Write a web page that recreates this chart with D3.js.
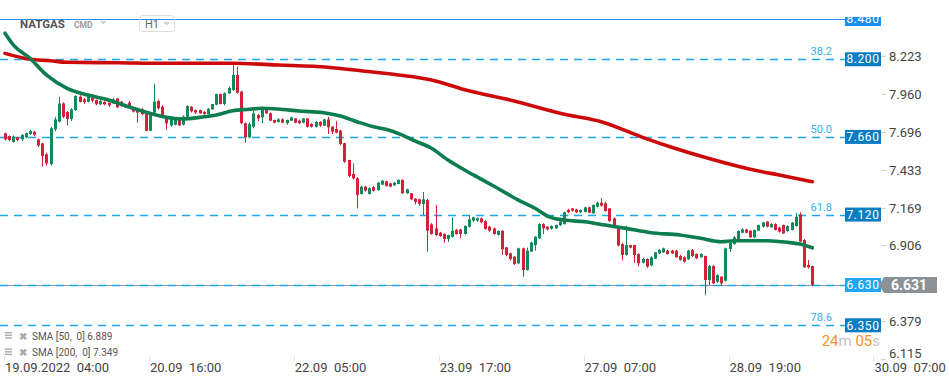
<!DOCTYPE html>
<html><head><meta charset="utf-8">
<script src="https://cdn.jsdelivr.net/npm/d3@7"></script>
<style>
html,body{margin:0;padding:0;background:#fff;}
svg{display:block;font-family:Roboto,"Noto Sans",sans-serif;}
</style></head><body>
<svg id="chart" width="949" height="384"></svg>
<script>
// ---- data (hourly candles, NATGAS H1) ----
const opens = [7.685,7.666,7.625,7.657,7.643,7.657,7.680,7.696,7.643,7.615,7.539,7.471,7.713,7.766,7.893,7.833,7.785,7.847,7.940,7.921,7.905,7.933,7.917,7.887,7.903,7.898,7.893,7.928,7.905,7.882,7.898,7.866,7.847,7.852,7.824,7.703,7.829,7.910,7.870,7.801,7.740,7.745,7.782,7.745,7.801,7.870,7.847,7.847,7.833,7.819,7.852,7.884,7.958,7.889,7.963,
7.986,8.091,7.975,7.755,7.657,7.731,7.813,7.796,7.847,7.824,7.778,7.764,7.782,7.755,7.773,7.789,7.773,7.759,7.789,7.750,7.731,7.764,7.738,7.782,7.731,7.715,7.704,7.616,7.500,7.402,7.372,7.263,7.314,7.263,7.310,7.291,7.328,7.351,7.337,7.323,7.333,7.361,7.268,7.268,7.231,7.226,7.194,7.221,
7.052,7.024,6.994,6.985,6.950,6.966,7.013,7.017,6.985,7.036,7.078,7.078,7.094,7.075,7.036,7.024,6.978,7.008,6.892,6.850,6.827,6.781,6.885,6.735,6.862,6.908,6.955,7.054,7.036,7.022,7.024,7.047,7.054,7.152,7.163,7.156,7.136,7.138,7.170,7.129,7.175,7.203,7.198,7.163,7.094,7.024,6.915,6.839,6.908,6.908,6.846,6.786,6.811,
6.767,6.813,6.850,6.857,6.869,6.869,6.869,6.832,6.823,6.809,6.874,6.846,6.823,6.832,6.665,6.762,6.653,6.688,6.660,6.881,6.915,6.943,6.994,7.017,7.008,6.962,7.008,7.036,7.071,7.031,7.054,7.029,7.047,7.006,7.013,7.040,7.122,6.943,6.769,6.762];
const highs = [7.69,7.67,7.67,7.66,7.68,7.69,7.71,7.70,7.65,7.62,7.55,7.73,7.80,7.94,7.90,7.84,7.86,7.95,7.95,7.93,7.96,7.94,7.92,7.92,7.91,7.90,7.93,7.93,7.91,7.89,7.91,7.87,7.85,7.86,7.83,7.83,8.03,7.92,7.88,7.80,7.79,7.79,7.79,7.81,7.88,7.875,7.85,7.85,7.84,7.86,7.89,7.96,7.96,7.97,8.01,
8.160,8.149,7.98,7.76,7.76,7.84,7.82,7.86,7.85,7.83,7.78,7.79,7.79,7.78,7.80,7.79,7.78,7.79,7.79,7.755,7.77,7.77,7.785,7.80,7.735,7.77,7.71,7.62,7.50,7.476,7.38,7.32,7.32,7.31,7.32,7.345,7.36,7.355,7.34,7.345,7.365,7.365,7.30,7.27,7.235,7.23,7.277,7.23,
7.06,7.187,7.00,6.99,6.98,7.101,7.02,7.02,7.045,7.117,7.105,7.10,7.10,7.08,7.04,7.03,7.01,7.01,6.895,6.855,6.83,6.89,6.89,6.89,6.93,6.97,7.06,7.06,7.04,7.045,7.05,7.075,7.14,7.16,7.165,7.16,7.155,7.175,7.175,7.19,7.21,7.233,7.21,7.165,7.10,7.03,6.92,7.043,6.91,6.91,6.85,6.82,6.815,
6.83,6.86,6.88,6.89,6.875,6.875,6.875,6.84,6.83,6.875,6.88,6.85,6.85,6.835,6.77,6.77,6.705,6.69,6.89,6.935,6.97,7.01,7.025,7.02,7.01,7.015,7.05,7.07,7.075,7.06,7.06,7.035,7.05,7.045,7.07,7.129,7.135,6.95,6.804,6.765];
const lows = [7.635,7.63,7.62,7.63,7.63,7.65,7.675,7.665,7.59,7.453,7.46,7.46,7.70,7.76,7.79,7.74,7.77,7.84,7.90,7.89,7.90,7.90,7.88,7.88,7.88,7.87,7.89,7.86,7.87,7.86,7.86,7.83,7.76,7.81,7.70,7.70,7.82,7.85,7.79,7.71,7.73,7.74,7.735,7.74,7.79,7.83,7.82,7.82,7.815,7.815,7.85,7.88,7.885,7.88,7.96,
7.98,7.96,7.75,7.620,7.65,7.72,7.77,7.755,7.82,7.77,7.755,7.76,7.755,7.745,7.77,7.755,7.75,7.755,7.725,7.725,7.725,7.73,7.735,7.680,7.680,7.685,7.60,7.48,7.38,7.365,7.163,7.26,7.28,7.26,7.28,7.285,7.325,7.315,7.31,7.32,7.33,7.265,7.265,7.22,7.19,7.18,7.117,6.862,
6.98,6.97,6.965,6.925,6.93,6.96,6.98,6.955,6.98,7.03,7.07,7.07,7.06,7.015,7.00,6.98,6.975,6.84,6.83,6.80,6.77,6.775,6.688,6.73,6.86,6.87,6.95,6.985,7.01,7.015,7.02,7.04,7.05,7.13,7.14,7.13,7.13,7.135,7.13,7.125,7.17,7.175,7.14,7.07,7.03,6.90,6.80,6.835,6.885,6.785,6.76,6.78,6.75,
6.76,6.81,6.845,6.855,6.84,6.845,6.82,6.80,6.785,6.805,6.825,6.81,6.82,6.561,6.63,6.635,6.645,6.625,6.655,6.86,6.91,6.94,6.99,6.99,6.96,6.955,7.005,7.03,7.03,7.03,7.01,6.995,6.985,7.00,7.01,7.035,6.93,6.75,6.745,6.625];
const closes = [7.643,7.638,7.662,7.638,7.673,7.685,7.701,7.675,7.601,7.527,7.476,7.720,7.782,7.893,7.801,7.785,7.852,7.944,7.903,7.903,7.940,7.912,7.887,7.910,7.887,7.880,7.921,7.866,7.875,7.866,7.866,7.836,7.829,7.819,7.703,7.829,7.905,7.859,7.792,7.754,7.787,7.780,7.740,7.801,7.875,7.838,7.829,7.824,7.819,7.856,7.889,7.958,7.889,7.963,8.000,
8.091,7.968,7.755,7.657,7.750,7.824,7.789,7.847,7.824,7.773,7.759,7.782,7.759,7.778,7.796,7.759,7.755,7.789,7.731,7.731,7.764,7.738,7.782,7.727,7.697,7.690,7.611,7.488,7.388,7.372,7.256,7.314,7.286,7.303,7.286,7.342,7.356,7.319,7.314,7.342,7.361,7.268,7.296,7.226,7.208,7.194,7.226,7.008,
6.985,6.978,6.971,6.950,6.978,7.008,6.985,6.985,7.041,7.087,7.101,7.094,7.066,7.020,7.008,6.985,7.006,6.878,6.839,6.811,6.776,6.885,6.735,6.869,6.925,6.966,7.054,7.024,7.017,7.041,7.047,7.071,7.136,7.136,7.147,7.136,7.152,7.170,7.133,7.187,7.203,7.182,7.145,7.075,7.036,6.904,6.839,6.908,6.890,6.839,6.781,6.811,6.758,
6.823,6.857,6.874,6.885,6.846,6.850,6.823,6.804,6.792,6.869,6.832,6.816,6.846,6.665,6.762,6.642,6.700,6.642,6.885,6.925,6.962,7.006,7.017,6.994,6.962,7.013,7.047,7.066,7.036,7.054,7.013,7.001,6.989,7.040,7.064,7.105,6.932,6.753,6.753,6.631];

const sma50Idx = [0,2,6,10,15,20,25,31,35,39,43,47,51,55,59,62,66,71,77,81,85,89,92,96,99,103,107,111,115,119,124,128,131,135,140,145,150,156,163,168,173,176,184,189,192,195];
const sma50Val = [8.381,8.300,8.207,8.091,7.998,7.951,7.917,7.859,7.824,7.796,7.785,7.796,7.812,7.842,7.852,7.859,7.854,7.840,7.828,7.805,7.766,7.731,7.713,7.673,7.632,7.581,7.499,7.430,7.367,7.303,7.221,7.164,7.110,7.082,7.070,7.047,7.024,6.994,6.978,6.955,6.931,6.938,6.938,6.927,6.915,6.889];
const sma200Idx = [0,6,11,15,27,39,55,66,78,86,95,103,112,122,136,144,154,161,169,180,187,195];
const sma200Val = [8.241,8.200,8.190,8.179,8.176,8.172,8.172,8.160,8.144,8.120,8.091,8.056,7.981,7.917,7.812,7.766,7.657,7.588,7.518,7.435,7.395,7.349];

const yTickValues = [8.223,7.960,7.696,7.433,7.169,6.906,6.379,6.115];
const xTickIdx = [0,35,70,105,140,175,210];
const xTickLabels = ["19.09.2022  04:00","20.09  16:00","22.09  05:00","23.09  17:00","27.09  07:00","28.09  19:00","30.09  07:00"];
const levelValues = [8.480,8.200,7.660,7.120,6.630,6.350];
const levelFibs = ["","38.2","50.0","61.8","","78.6"];
const lastPrice = 6.631;
const legendNames = ["SMA [50,  0]","SMA [200,  0]"];
const legendValues = [6.889,7.349];
const timerParts = ["24","m ","05","s"];

// ---- drawing ----
const svg = d3.select("#chart");
const x = d3.scaleLinear().domain([0,210]).range([5,874.4]);
const y = d3.scaleLinear().domain([6.115,8.48]).range([359.1,19]);
const plotRight = 845, axisX = 881;

svg.append("defs").append("clipPath").attr("id","clipTop")
  .append("rect").attr("x",0).attr("y",17).attr("width",949).attr("height",367);
const root = svg.append("g").attr("clip-path","url(#clipTop)");

// current price line (grey) under the levels
const yl = Math.round(y(lastPrice))+0.5;
root.append("line").attr("x1",0).attr("x2",axisX).attr("y1",yl).attr("y2",yl)
  .attr("stroke","#8c9196").attr("stroke-width",1);

// levels
const levelColor = v => v===8.48 ? "#1a8ef2" : (v===6.63 ? "#1ea7ef" : "#0a7cc2");
levelValues.forEach((v,i)=>{
  const yy = Math.round(y(v))+0.5;
  root.append("line").attr("x1",0).attr("x2",plotRight).attr("y1",yy).attr("y2",yy)
    .attr("stroke", i===0 ? "#1f8ff0" : "#1ba8ee")
    .attr("stroke-width", i===0 ? 1.2 : 1.5)
    .attr("stroke-dasharray", i===0 ? null : "8,6");
  if(levelFibs[i]) root.append("text").attr("x",832).attr("y",yy-5)
    .attr("text-anchor","end").attr("font-size",11).attr("fill","#35aef2").text(levelFibs[i]);
});

// SMA 200
const line = d3.line().x(d=>x(d[0])).y(d=>y(d[1])).curve(d3.curveMonotoneX);
root.append("path").datum(sma200Idx.map((d,i)=>[d,sma200Val[i]]))
  .attr("d",line).attr("fill","none").attr("stroke","#cc0a0a").attr("stroke-width",3.6).attr("stroke-linecap","round");

// candles
const candles = opens.map((o,i)=>({i,o,h:highs[i],l:lows[i],c:closes[i]}));
const cg = root.append("g");
candles.forEach(d=>{
  const up = d.c>=d.o;
  const col = up ? "#0f8a5a" : "#d5203a";
  const cx = Math.round(x(d.i))+0.5;
  cg.append("line").attr("x1",cx).attr("x2",cx).attr("y1",y(d.h)).attr("y2",y(d.l))
    .attr("stroke",col).attr("stroke-width",1);
  const top = y(Math.max(d.o,d.c)), bot = y(Math.min(d.o,d.c));
  cg.append("rect").attr("x",cx-1.5).attr("y",top).attr("width",3).attr("height",Math.max(1,bot-top))
    .attr("fill",col);
});

// SMA 50
root.append("path").datum(sma50Idx.map((d,i)=>[d,sma50Val[i]]))
  .attr("d",line).attr("fill","none").attr("stroke","#0b7d4f").attr("stroke-width",3.6).attr("stroke-linecap","round");

// level price boxes
levelValues.forEach((v,i)=>{
  const yy = y(v);
  root.append("rect").attr("x",plotRight).attr("y",yy-7).attr("width",36).attr("height",14)
    .attr("fill",levelColor(v));
  root.append("text").attr("x",plotRight+18).attr("y",yy+4.2).attr("text-anchor","middle")
    .attr("font-size",12).attr("letter-spacing",0.6).attr("fill","#fff").text(v.toFixed(3));
});

// right axis ticks
yTickValues.forEach(v=>{
  const yy = Math.round(y(v))+0.5;
  svg.append("line").attr("x1",axisX).attr("x2",axisX+5).attr("y1",yy).attr("y2",yy).attr("stroke","#d0d0d0");
  svg.append("text").attr("x",889).attr("y",Math.min(yy,353)+4.5)
    .attr("font-size",13).attr("fill","#444").text(v.toFixed(3));
});

// current price box
const cy = y(lastPrice);
svg.append("path").attr("d",`M${axisX-2},${cy} L${axisX+3},${cy-8} L937,${cy-8} L937,${cy+8} L${axisX+3},${cy+8} Z`)
  .attr("fill","#8a9297");
svg.append("text").attr("x",909).attr("y",cy+5).attr("text-anchor","middle")
  .attr("font-size",14).attr("font-weight","bold").attr("fill","#fff").text(lastPrice.toFixed(3));

// x axis
xTickIdx.forEach((t,i)=>{
  const xx = Math.round(x(t))-0.5;
  svg.append("line").attr("x1",xx).attr("x2",xx).attr("y1",356).attr("y2",361).attr("stroke","#e0e0e0");
  svg.append("text").attr("x",x(t)).attr("y",372).attr("font-size",13).attr("fill","#444")
    .style("white-space","pre").text(xTickLabels[i]);
});

// legend
legendNames.forEach((n,i)=>{
  const yy = 336 + i*16.5;
  const g = svg.append("g");
  for(let k=0;k<3;k++) g.append("rect").attr("x",5).attr("y",yy-4+k*2.6).attr("width",7).attr("height",1.4).attr("fill","#aaa");
  g.append("text").attr("x",19).attr("y",yy+3.5).attr("font-size",10).attr("font-weight","bold").attr("fill","#aaa").text("✖");
  g.append("text").attr("x",32).attr("y",yy+3.5).attr("font-size",10).attr("fill","#555")
    .style("white-space","pre").text(n+" "+legendValues[i].toFixed(3));
});

// timer
const tt = svg.append("text").attr("x",880).attr("y",346).attr("text-anchor","end").attr("font-size",15)
  .style("white-space","pre");
timerParts.forEach((p,i)=>tt.append("tspan").attr("fill", i%2===0 ? "#f7931e" : "#c4c4c4").text(p));

// header
svg.append("text").attr("x",20).attr("y",28).attr("font-size",11.5).attr("font-weight","bold").attr("fill","#555").text("NATGAS");
svg.append("text").attr("x",74).attr("y",28).attr("font-size",8.5).attr("font-weight","bold").attr("fill","#9a9a9a").text("CMD");
svg.append("path").attr("d","M100,21 L106.5,21 L103.25,24.5 Z").attr("fill","#cfcfcf");
svg.append("rect").attr("x",139.5).attr("y",15.5).attr("width",35).attr("height",16).attr("rx",3)
  .attr("fill","none").attr("stroke","#dcdcdc");
svg.append("text").attr("x",145).attr("y",28).attr("font-size",11).attr("fill","#666").text("H1");
svg.append("path").attr("d","M163,22 L170,22 L166.5,25.5 Z").attr("fill","#cfcfcf");
</script>
</body></html>
